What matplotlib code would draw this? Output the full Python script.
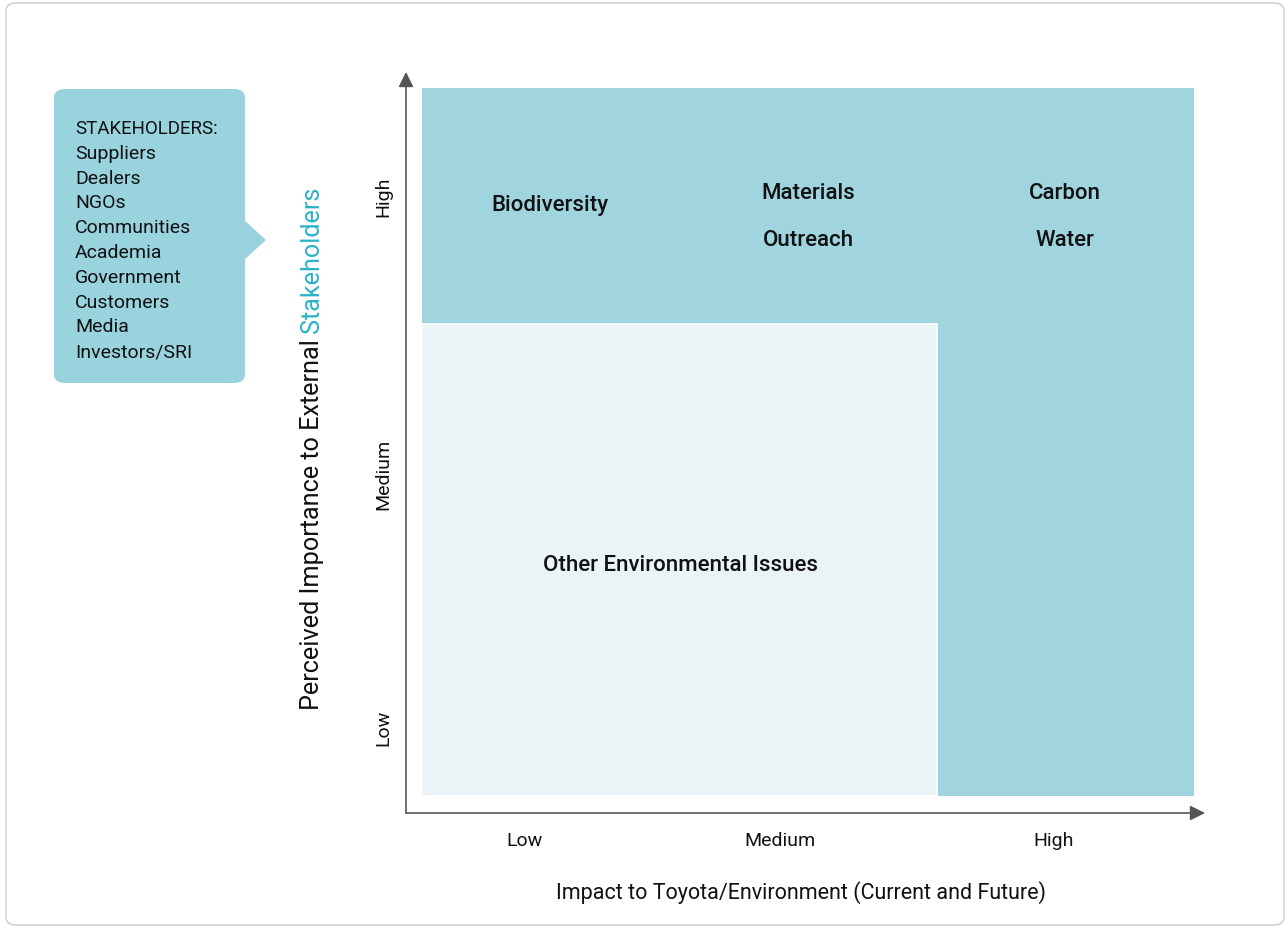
import matplotlib
matplotlib.use('Agg')
import matplotlib.pyplot as plt
from matplotlib.patches import Rectangle, FancyBboxPatch, Polygon

plt.rcParams['font.family'] = ['Roboto', 'DejaVu Sans']

# axis scales run 0-100 on both directions
levels = ['Low', 'Medium', 'High']
x_tick_pos = [14.8, 46.8, 81.0]
y_tick_pos = [11.5, 45.7, 83.2]

# shaded zones: (x0, x1, y0, y1)
high_zone = (2.0, 98.6, 2.3, 97.8)
other_zone = (2.0, 66.5, 2.3, 66.0)

issues = ['Biodiversity', 'Materials', 'Outreach', 'Carbon', 'Water', 'Other Environmental Issues']
issue_x = [18.0, 50.3, 50.3, 82.5, 82.5, 34.3]
issue_y = [82.0, 83.6, 77.2, 83.6, 77.2, 33.4]

stakeholders = ['STAKEHOLDERS:', 'Suppliers', 'Dealers', 'NGOs', 'Communities', 'Academia',
                'Government', 'Customers', 'Media', 'Investors/SRI']

dark = '#a0d5df'
light = '#eaf3f6'
box_col = '#98d3de'
axis_col = '#555555'

W, H = 1286, 930
fig = plt.figure(figsize=(W / 100, H / 100), dpi=100)

# outer rounded frame
frame = FancyBboxPatch((6 / W, 5 / H), 1278 / W, 922 / H, boxstyle='round,pad=0,rounding_size=0.008',
                       transform=fig.transFigure, facecolor='none', edgecolor='#cccccc', lw=1.0)
fig.patches.append(frame)

ax = fig.add_axes([406 / W, (H - 813) / H, 799 / W, 741 / H])
ax.set_xlim(0, 100)
ax.set_ylim(0, 100)
ax.patch.set_alpha(0)
for s in ax.spines.values():
    s.set_visible(False)

x0, x1, y0, y1 = high_zone
ax.add_patch(Rectangle((x0, y0), x1 - x0, y1 - y0, facecolor=dark, edgecolor='none'))
x0, x1, y0, y1 = other_zone
ax.add_patch(Rectangle((x0, y0), x1 - x0, y1 - y0, facecolor=light, edgecolor='white', lw=1.2))

for name, x, y in zip(issues, issue_x, issue_y):
    ax.text(x, y, name, ha='center', va='center', fontsize=16, fontweight='medium', color='#111111')

# axes with arrow heads
arrow = dict(arrowstyle='-|>,head_length=0.9,head_width=0.45', color=axis_col, lw=1.2, shrinkA=0, shrinkB=0)
ax.annotate('', xy=(0, 1), xytext=(0, 0), xycoords='axes fraction', arrowprops=arrow)
ax.annotate('', xy=(1, 0), xytext=(0, 0), xycoords='axes fraction', arrowprops=arrow)

ax.set_xticks(x_tick_pos)
ax.set_xticklabels(levels, fontsize=14)
ax.set_yticks(y_tick_pos)
ax.set_yticklabels(levels, fontsize=14, rotation=90, va='center')
ax.tick_params(length=0, colors='#111111')
ax.tick_params(axis='x', pad=14)
ax.tick_params(axis='y', pad=10)

ax.set_xlabel('Impact to Toyota/Environment (Current and Future)', fontsize=15.5, labelpad=22, color='#111111')
ax.xaxis.label.set_x(0.494)

# two-coloured y label
t1 = fig.text(312 / W, (H - 710) / H, 'Perceived Importance to External ', rotation=90,
              ha='center', va='bottom', fontsize=18.2, color='#111111')
fig.add_artist(plt.Annotation('Stakeholders', xy=(0.5, 1), xycoords=t1, rotation=90, ha='center',
                              va='bottom', fontsize=18.2, color='#2bb3c8', annotation_clip=False))

# stakeholder callout box
box = FancyBboxPatch((54 / W, (H - 383) / H), 191 / W, 294 / H,
                     boxstyle='round,pad=0,rounding_size=0.009', transform=fig.transFigure,
                     facecolor=box_col, edgecolor='none')
fig.patches.append(box)
tip = Polygon([(244 / W, (H - 220) / H), (266 / W, (H - 240) / H), (244 / W, (H - 260) / H)],
              closed=True, transform=fig.transFigure, facecolor=box_col, edgecolor='none')
fig.patches.append(tip)
for i, name in enumerate(stakeholders):
    fig.text(75 / W, (H - 129 - i * 24.8) / H, name, ha='left', va='center',
             fontsize=13.5 if i == 0 else 14, color='#111111')

fig.savefig('out.png', dpi=100)
